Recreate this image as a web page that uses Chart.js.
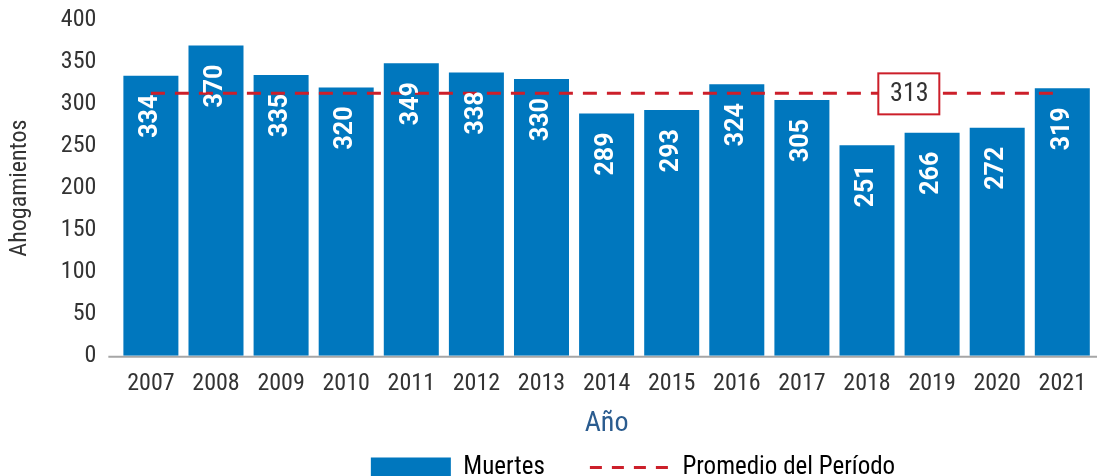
<!DOCTYPE html>
<html>
<head>
<meta charset="utf-8">
<script src="https://cdn.jsdelivr.net/npm/chart.js@4.4.0/dist/chart.umd.min.js"></script>
<style>
  html,body{margin:0;padding:0;background:#fff;overflow:hidden}
  .wrap{width:1100px;height:506px;position:relative;top:-16px}
</style>
</head>
<body>
<div class="wrap"><canvas id="myChart"></canvas></div>
<script>
const years=['2007','2008','2009','2010','2011','2012','2013','2014','2015','2016','2017','2018','2019','2020','2021']
const deaths=[334,370,335,320,349,338,330,289,293,324,305,251,266,272,319]
const periodAverage=313
const yTicks=[0,50,100,150,200,250,300,350,400]

const FONT='"Roboto Condensed", "Liberation Sans Narrow", "DejaVu Sans Condensed", Roboto, sans-serif'
const BLUE='#0077be'
const RED='#cc1f2a'

// white rotated numbers inside each bar
const barLabels={
    id:'barLabels',
    afterDatasetsDraw(chart){
        const ctx=chart.ctx
        const meta=chart.getDatasetMeta(1)
        ctx.save()
        ctx.fillStyle='#fff'
        ctx.font='bold 25px Roboto, sans-serif'
        ctx.textAlign='right'
        ctx.textBaseline='middle'
        meta.data.forEach((bar,i)=>{
            ctx.save()
            ctx.translate(bar.x,bar.y+19)
            ctx.rotate(-Math.PI/2)
            ctx.fillText(String(deaths[i]),0,0)
            ctx.restore()
        })
        ctx.restore()
    }
}

const averageBox={
    id:'averageBox',
    afterDraw(chart){
        const ctx=chart.ctx
        const x=chart.scales.x.getPixelForValue(11.65)
        const y=chart.scales.y.getPixelForValue(periodAverage)
        ctx.save()
        ctx.fillStyle='#fff'
        ctx.fillRect(x-31,y-20,61,41)
        ctx.strokeStyle=RED
        ctx.lineWidth=2
        ctx.strokeRect(x-31,y-20,61,41)
        ctx.fillStyle='#333'
        ctx.font='26px '+FONT
        ctx.textAlign='center'
        ctx.textBaseline='middle'
        ctx.fillText(String(periodAverage),x,y+1)
        ctx.restore()
    }
}

const axisLine={
    id:'axisLine',
    beforeDatasetsDraw(chart){
        const ctx=chart.ctx
        const a=chart.chartArea
        ctx.save()
        ctx.strokeStyle='#a6a6a6'
        ctx.lineWidth=2
        ctx.beginPath()
        ctx.moveTo(a.left-10,a.bottom+1)
        ctx.lineTo(chart.width,a.bottom+1)
        ctx.stroke()
        ctx.restore()
    }
}

// legend sits a bit right of the page centre
const legendShift={
    id:'legendShift',
    afterLayout(chart){
        chart.legend.left+=80
        chart.legend.right+=80
    }
}

const ctx=document.getElementById('myChart')
new Chart(ctx,{
    data:{
        labels:years,
        datasets:[
            {
                type:'line',
                label:'Promedio del Período',
                data:years.map(()=>periodAverage),
                borderColor:RED,
                borderWidth:3,
                borderDash:[14,10],
                pointRadius:0,
                fill:false,
                order:0
            },
            {
                type:'bar',
                label:'Muertes',
                data:deaths,
                backgroundColor:BLUE,
                borderWidth:0,
                barPercentage:0.845,
                categoryPercentage:1,
                order:1
            }
        ]
    },
    options:{
        responsive:true,
        maintainAspectRatio:false,
        animation:false,
        layout:{padding:{top:0,right:0,left:6,bottom:0}},
        plugins:{
            tooltip:{enabled:false},
            legend:{
                position:'bottom',
                labels:{
                    color:'#333',
                    font:{family:FONT,size:25},
                    boxWidth:80,
                    boxHeight:20,
                    padding:12,
                    usePointStyle:true,
                    pointStyleWidth:80,
                    generateLabels(){
                        return [
                            {text:'Muertes\u2003\u2002',fillStyle:BLUE,strokeStyle:BLUE,lineWidth:0,pointStyle:'rect',datasetIndex:1},
                            {text:'Promedio del Período',fillStyle:RED,strokeStyle:RED,lineWidth:3,lineDash:[12,10],pointStyle:'line',datasetIndex:0}
                        ]
                    }
                }
            }
        },
        scales:{
            x:{
                grid:{display:false,drawTicks:false},
                border:{display:false},
                ticks:{color:'#333',font:{family:FONT,size:24},padding:14,maxRotation:0},
                title:{display:true,text:'Año',color:'#2b5c8f',font:{family:FONT,size:28,lineHeight:0.8},padding:{top:0,bottom:8}}
            },
            y:{
                min:0,max:400,
                afterBuildTicks(axis){axis.ticks=yTicks.map(v=>({value:v}))},
                grid:{display:false,drawTicks:false},
                border:{display:false},
                ticks:{color:'#333',font:{family:FONT,size:24},padding:22},
                title:{display:true,text:'Ahogamientos',color:'#333',font:{family:FONT,size:24},padding:{top:0,bottom:4}}
            }
        }
    },
    plugins:[barLabels,averageBox,axisLine,legendShift]
})
</script>
</body>
</html>
